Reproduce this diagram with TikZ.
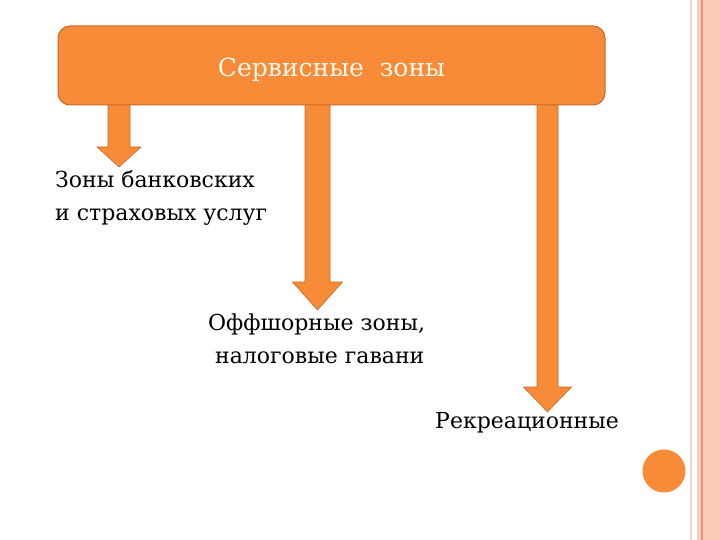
\documentclass[tikz,border=0pt]{standalone}
\usepackage{fontspec}
\setmainfont{DejaVu Serif}
\definecolor{orfill}{RGB}{247,139,56}
\definecolor{ordraw}{RGB}{200,105,40}
\definecolor{peach}{RGB}{251,204,185}
\definecolor{peachdark}{RGB}{240,150,120}
\definecolor{peachlight}{RGB}{240,214,198}
\definecolor{titlecol}{RGB}{255,248,235}
\tikzset{
  mainbox/.style={draw=ordraw, line width=1pt, fill=orfill, rounded corners=12pt, minimum width=547pt, minimum height=79pt, inner sep=0pt},
  blockarrow/.style={draw=ordraw, line width=0.6pt, fill=orfill},
  lbl/.style={font=\fontsize{22}{33}\selectfont, inner sep=0pt, anchor=base west}
}
\newcommand\myarrow[7]{% xc, ytop, shafthalf, headhalf, headtop, tip, name
  \draw[blockarrow] (#1-#3,#2) -- (#1-#3,#5) -- (#1-#4,#5) -- (#1,#6) coordinate (#7) -- (#1+#4,#5) -- (#1+#3,#5) -- (#1+#3,#2) -- cycle;
}
\begin{document}
\begin{tikzpicture}[x=1pt,y=-1pt]
\useasboundingbox (0,0) rectangle (720,540);
% right decoration
\fill[peach] (697,0) rectangle (720,540);
\fill[peachdark] (701,0) rectangle (703,540);
\fill[peachlight] (689.5,0) rectangle (692,540);
\fill[orfill] (664,471) circle (21.5);
% arrows
\myarrow{119}{104}{11}{22}{147}{167}{t1}
\myarrow{317.5}{104}{12.5}{25}{282}{310}{t2}
\myarrow{547.5}{104}{10.5}{24}{387}{412}{t3}
% main box
\node[mainbox] (top) at (331.5,65.5) {};
\node[text=titlecol, font=\fontsize{25}{30}\selectfont] (title) at (331.5,70) {Сервисные\ \ зоны};
\node[lbl] (a1) at (55,188) {Зоны банковских};
\node[lbl] (a2) at (55,221) {и страховых услуг};
\node[lbl] (b1) at (208,330) {Оффшорные зоны,};
\node[lbl] (b2) at (215,363) {налоговые гавани};
\node[lbl] (c) at (435,428) {Рекреационные};
\end{tikzpicture}
\end{document}
